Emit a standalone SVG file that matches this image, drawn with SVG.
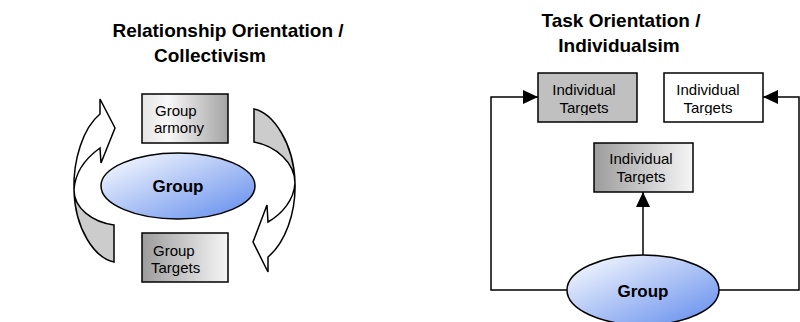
<svg xmlns="http://www.w3.org/2000/svg" width="800" height="322" viewBox="0 0 800 322">
  <style>
    .title { font-family: "Liberation Sans", Arial, sans-serif; font-weight: bold; font-size: 19px; fill: #000; }
    .label { font-family: "Liberation Sans", Arial, sans-serif; font-size: 15px; fill: #000; }
    .oval-label { font-family: "Liberation Sans", Arial, sans-serif; font-weight: bold; font-size: 17px; fill: #000; text-anchor: middle; }
    .box { stroke: #000; stroke-width: 1.5; }
    .oval { fill: url(#ovalFill); stroke: #000; stroke-width: 1.5; }
    .ribbon { stroke: #000; stroke-width: 1.5; stroke-linejoin: miter; }
    .link { fill: none; stroke: #000; stroke-width: 1.5; }
  </style>
  <defs>
    <linearGradient id="ovalFill" x1="0" y1="0" x2="1" y2="1">
      <stop offset="0" stop-color="#ffffff"/>
      <stop offset="1" stop-color="#5f8aec"/>
    </linearGradient>
    <linearGradient id="lightToDark" x1="0" y1="0" x2="1" y2="0">
      <stop offset="0" stop-color="#e4e4e4"/>
      <stop offset="0.3" stop-color="#f8f8f8"/>
      <stop offset="1" stop-color="#a4a4a4"/>
    </linearGradient>
    <linearGradient id="darkToLight" x1="0" y1="0" x2="1" y2="0">
      <stop offset="0" stop-color="#9c9c9c"/>
      <stop offset="1" stop-color="#f6f6f6"/>
    </linearGradient>
    <clipPath id="clipHarmony"><rect x="142" y="94" width="86" height="42"/></clipPath>
    <clipPath id="clipGroupTargets"><rect x="142" y="233" width="86" height="43"/></clipPath>
    <clipPath id="clipT1"><rect x="538" y="73" width="99" height="42"/></clipPath>
    <clipPath id="clipT2"><rect x="664" y="73" width="99" height="42"/></clipPath>
    <clipPath id="clipT3"><rect x="594" y="143" width="99" height="41"/></clipPath>
    <marker id="head" markerUnits="userSpaceOnUse" markerWidth="16" markerHeight="14" refX="15" refY="7" orient="auto">
      <path d="M0,0 L15,7 L0,14 Z" fill="#000"/>
    </marker>
  </defs>

  <!-- headings -->
  <text class="title" x="228" y="37" text-anchor="middle">Relationship Orientation /</text>
  <text class="title" x="210" y="62" text-anchor="middle">Collectivism</text>
  <text class="title" x="621" y="27" text-anchor="middle">Task Orientation /</text>
  <text class="title" x="619" y="52" text-anchor="middle">Individualsim</text>

  <!-- collectivist cycle -->
  <g id="group-left">
    <ellipse class="oval" cx="178" cy="186" rx="77" ry="33"/>
    <text class="oval-label" x="178" y="192">Group</text>
  </g>

  <g id="group-harmony">
    <rect class="box" x="142" y="94" width="86" height="49" fill="url(#lightToDark)"/>
    <g clip-path="url(#clipHarmony)">
      <text class="label" x="155" y="116">Group</text>
      <text class="label" x="154" y="133">armony</text>
    </g>
  </g>

  <g id="group-targets">
    <rect class="box" x="142" y="233" width="86" height="49" fill="url(#darkToLight)"/>
    <g clip-path="url(#clipGroupTargets)">
      <text class="label" x="153" y="256">Group</text>
      <text class="label" x="151" y="273">Targets</text>
    </g>
  </g>

  <g id="cycle-arrows">
    <!-- left ribbon: rising on the left side -->
    <path class="ribbon" fill="#cccccc" d="M74,190 C75,230 95,258 114,262 L114,225 C92,222 74,208 74,190 Z"/>
    <path class="ribbon" fill="#ffffff" d="M74,190 C73,160 83,128 100,114 L100,99 L115,128 L101,163 L100,148 C86,158 75,172 74,190 Z"/>
    <!-- right ribbon: falling on the right side -->
    <path class="ribbon" fill="#cccccc" d="M295,183 C294,143 273,113 254,109 L254,142 C276,146 295,163 295,183 Z"/>
    <path class="ribbon" fill="#ffffff" d="M295,183 C296,213 285,243 268,257 L268,272 L253,242 L267,205 L268,222 C282,214 294,200 295,183 Z"/>
  </g>

  <!-- individualist layout -->
  <g id="connectors">
    <path class="link" d="M567,290 H491 V97 H538" marker-end="url(#head)"/>
    <path class="link" d="M719,290 H799 V97 H763" marker-end="url(#head)"/>
    <path class="link" d="M643,255 V192" marker-end="url(#head)"/>
  </g>

  <g id="target-1">
    <rect class="box" x="538" y="73" width="99" height="49" fill="#c0c0c0"/>
    <g clip-path="url(#clipT1)">
      <text class="label" x="584" y="95" text-anchor="middle">Individual</text>
      <text class="label" x="584" y="113" text-anchor="middle">Targets</text>
    </g>
  </g>

  <g id="target-2">
    <rect class="box" x="664" y="73" width="99" height="49" fill="#ffffff"/>
    <g clip-path="url(#clipT2)">
      <text class="label" x="708" y="95" text-anchor="middle">Individual</text>
      <text class="label" x="708" y="113" text-anchor="middle">Targets</text>
    </g>
  </g>

  <g id="target-3">
    <rect class="box" x="594" y="143" width="99" height="49" fill="url(#darkToLight)"/>
    <g clip-path="url(#clipT3)">
      <text class="label" x="641" y="164" text-anchor="middle">Individual</text>
      <text class="label" x="641" y="182" text-anchor="middle">Targets</text>
    </g>
  </g>

  <g id="group-right">
    <ellipse class="oval" cx="643" cy="290" rx="76" ry="35"/>
    <text class="oval-label" x="643" y="297">Group</text>
  </g>
</svg>
